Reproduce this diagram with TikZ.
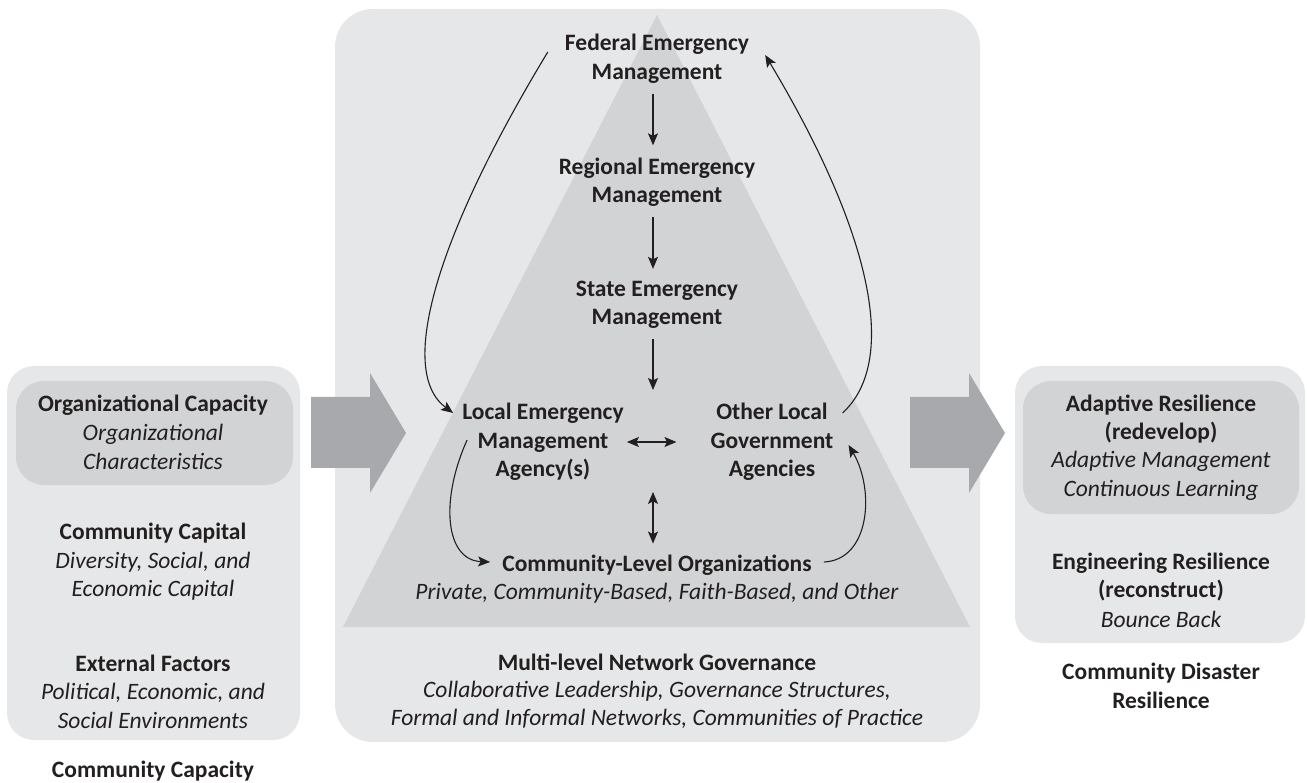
\documentclass[tikz,border=0pt]{standalone}
\usepackage{fontspec}
\setmainfont{Carlito}
\usetikzlibrary{arrows.meta}
\definecolor{boxlight}{HTML}{E6E7E8}
\definecolor{boxdark}{HTML}{D1D3D4}
\definecolor{arrowgray}{HTML}{A7A9AC}
\definecolor{ink}{HTML}{231F20}
\begin{document}
\begin{tikzpicture}[x=1pt,y=-1pt,
  txt/.style={inner sep=0pt, align=center, text=ink},
  hd/.style={txt, font=\fontsize{23.5}{28.5}\selectfont\bfseries},
  sub/.style={txt, font=\fontsize{23.5}{28.5}\selectfont\itshape},
  outerbox/.style={fill=boxlight, draw=none, rounded corners=27pt},
  innerbox/.style={fill=boxdark, draw=none, rounded corners=28pt},
  bigarrow/.style={fill=arrowgray, draw=none},
  con/.style={draw=ink, line width=1.3pt, -{Stealth[length=12pt,width=10pt,inset=2.5pt]}},
  dcon/.style={draw=ink, line width=1.3pt, {Stealth[length=12pt,width=10pt,inset=2.5pt]}-{Stealth[length=12pt,width=10pt,inset=2.5pt]}}
]
\useasboundingbox (0,0) rectangle (1307,783);

% background shapes
\path[outerbox] (7,366) rectangle (300,740);
\path[innerbox] (16,381) rectangle (293,485);
\path[fill=boxlight, rounded corners=38pt] (335,9) rectangle (980,742);
\path[fill=boxdark] (657,15) -- (970,627) -- (343,627) -- cycle;
\path[outerbox] (1015,366) rectangle (1305,643);
\path[innerbox] (1023,381) rectangle (1299,514);

% block arrows
\path[bigarrow] (311,397) -- (370,397) -- (370,373) -- (406,433) -- (370,493) -- (370,468) -- (311,468) -- cycle;
\path[bigarrow] (910,397) -- (969,397) -- (969,373) -- (1005,433) -- (969,493) -- (969,468) -- (910,468) -- cycle;

% left column
\node[hd]  (orgcap)  at (153,405) {Organizational Capacity};
\node[sub] (orgsub)  at (153,447) {Organizational\\Characteristics};
\node[hd]  (capital) at (153,533) {Community Capital};
\node[sub] (capsub)  at (153,576) {Diversity, Social, and\\Economic Capital};
\node[hd]  (ext)     at (153,663) {External Factors};
\node[sub] (extsub)  at (153,706) {Political, Economic, and\\Social Environments};
\node[hd]  (ccap)    at (153,771) {Community Capacity};

% middle column
\node[hd]  (fed)     at (657,59)  {Federal Emergency\\Management};
\node[hd]  (reg)     at (657,182) {Regional Emergency\\Management};
\node[hd]  (state)   at (657,305) {State Emergency\\Management};
\node[hd]  (local)   at (543,442) {Local Emergency\\Management\\Agency(s)};
\node[hd]  (other)   at (772,442) {Other Local\\Government\\Agencies};
\node[hd]  (commn)   at (657,565) {Community-Level Organizations};
\node[sub] (commsub) at (657,593) {Private, Community-Based, Faith-Based, and Other};
\node[hd]  (mlng)    at (657,662) {Multi-level Network Governance};
\node[sub] (mlngsub) at (657,705) {Collaborative Leadership, Governance Structures,\\Formal and Informal Networks, Communities of Practice};

% right column
\node[hd]  (adapt)    at (1161,419) {Adaptive Resilience\\(redevelop)};
\node[sub] (adaptsub) at (1161,476) {Adaptive Management\\Continuous Learning};
\node[hd]  (eng)      at (1161,577) {Engineering Resilience\\(reconstruct)};
\node[sub] (engsub)   at (1161,619) {Bounce Back};
\node[hd]  (cdr)      at (1161,686) {Community Disaster\\Resilience};

% connectors
\coordinate (hub) at (653,390);
\coordinate (mid) at (local.south -| commn.north);
\draw[con, shorten <=10pt, shorten >=12pt] ([xshift=-4pt]fed.south) -- ([xshift=-4pt]reg.north);
\draw[con, shorten <=10pt, shorten >=12pt] ([xshift=-4pt]reg.south) -- ([xshift=-4pt]state.north);
\draw[con, shorten <=10pt] ([xshift=-4pt]state.south) -- (hub);
\draw[dcon, shorten <=3pt, shorten >=34pt] (local) -- (other);
\draw[dcon, shorten <=11pt, shorten >=11pt] ([xshift=-4pt]mid) -- ([xshift=-4pt]commn.north);

\draw[con, line width=1.1pt] ([shift={(-17,-7)}]fed.west) .. controls (440,230) and (395,370) .. ([shift={(-9,-29)}]local.west);
\draw[con, line width=1.1pt] ([shift={(9,-29)}]other.east) .. controls (900,360) and (870,230) .. ([shift={(16,-4)}]fed.east);
\draw[con, line width=1.1pt] ([shift={(5,-2)}]local.west) .. controls (440,500) and (445,560) .. ([shift={(-12,-3)}]commn.west);
\draw[con, line width=1.1pt] ([shift={(12,-3)}]commn.east) .. controls (870,560) and (875,490) .. ([shift={(15,3)}]other.east);
\end{tikzpicture}
\end{document}
